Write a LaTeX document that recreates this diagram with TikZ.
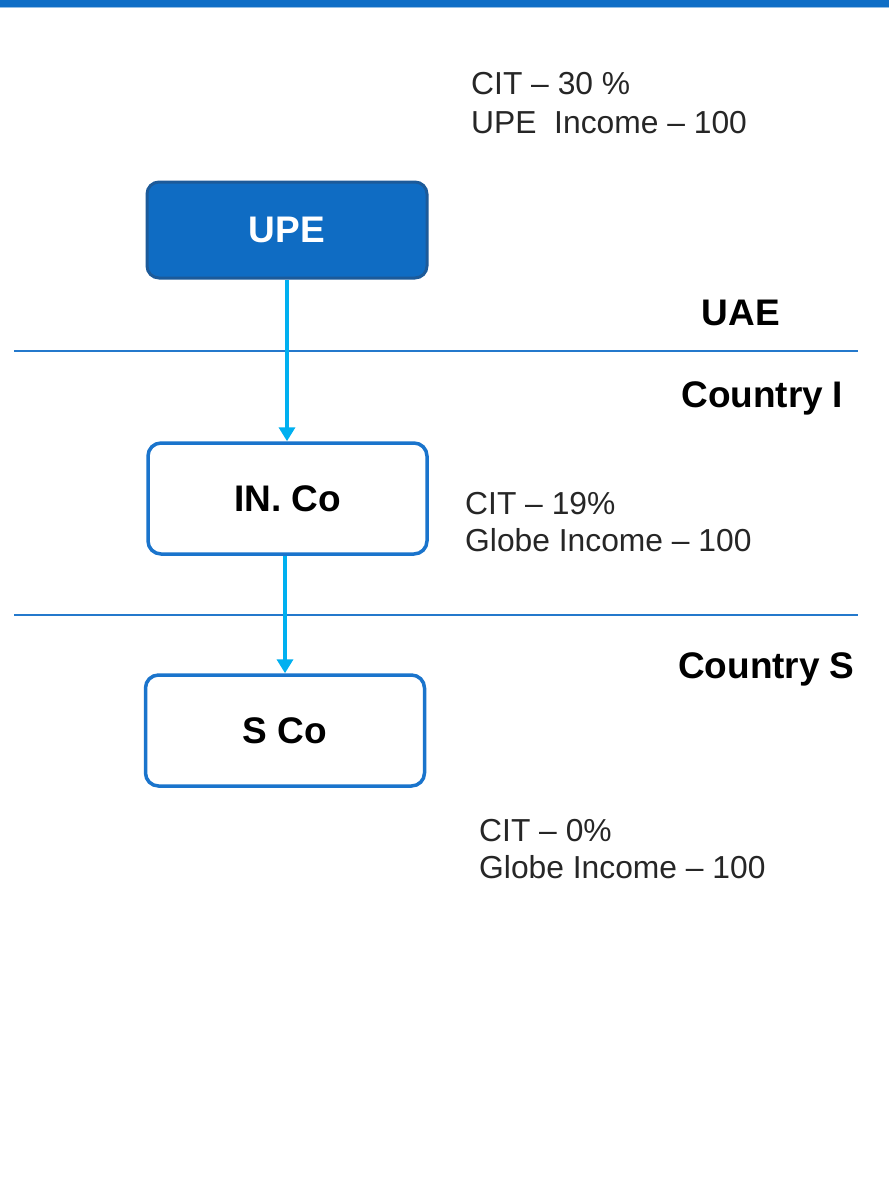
\documentclass[tikz,border=0pt]{standalone}
\usepackage{fontspec}
\setmainfont{Liberation Sans}
\usetikzlibrary{arrows.meta}
\definecolor{barblue}{HTML}{0F6EC6}
\definecolor{upefill}{HTML}{0F6CC3}
\definecolor{upeedge}{HTML}{1C5A99}
\definecolor{boxedge}{HTML}{1A74CC}
\definecolor{flowblue}{HTML}{00B0F0}
\definecolor{sepblue}{HTML}{2479CC}
\definecolor{txtgray}{HTML}{262626}
\tikzset{
  entity/.style={rounded corners=13pt, line width=3.5pt, draw=boxedge, fill=white,
    minimum width=279pt, minimum height=111pt, inner sep=0pt,
    font=\fontsize{37}{40}\selectfont\bfseries, text=black},
  parent/.style={rounded corners=12pt, line width=3pt, draw=upeedge, fill=upefill,
    minimum width=280pt, minimum height=96pt, inner sep=0pt,
    font=\fontsize{37}{40}\selectfont\bfseries, text=white},
  flow/.style={draw=flowblue, line width=3.8pt, -{Triangle[width=16pt,length=14pt]}},
  divider/.style={draw=sepblue, line width=1.6pt},
  region/.style={anchor=base, inner sep=0pt, font=\fontsize{37}{40}\selectfont\bfseries, text=black},
  info/.style={anchor=base west, inner sep=0pt, font=\fontsize{31.8}{38}\selectfont, text=txtgray}
}
\begin{document}
\begin{tikzpicture}[x=1pt,y=-1pt]
\useasboundingbox (0,0) rectangle (889,1188);
\fill[white] (0,0) rectangle (889,1188);
% header band
\fill[barblue] (0,0) rectangle (889,7);
\fill[barblue!45] (0,7) rectangle (889,8.5);

% jurisdiction dividers
\coordinate (d1l) at (14,351);
\coordinate (d1r) at (858,351);
\coordinate (d2l) at (14,615);
\coordinate (d2r) at (858,615);
\draw[divider] (d1l) -- (d1r);
\draw[divider] (d2l) -- (d2r);

% entities
\node[parent] (upe) at (287,230) {UPE};
\node[entity] (inco) at (287.5,498.5) {IN. Co};
\node[entity] (sco) at (285,730.5) {S Co};

% ownership chain, kept vertical
\draw[flow] (upe.south) -- (upe.south |- inco.north);
\draw[flow] (sco.north |- inco.south) -- (sco.north);

% jurisdictions
\node[region] (uae) at (741,325) {UAE};
\node[region] (ctryi) at (762,407) {Country\kern-1pt\ I};
\node[region] (ctrys) at (766,678) {Country\kern-1pt\ S};

% tax data
\node[info] (upecit) at (471,95) {CIT – 30 \%};
\node[info] (upeinc) at (471,133) {UPE\ \ Income – 100};
\node[info] (incocit) at (465,514) {CIT – 19\%};
\node[info] (incoinc) at (465,551) {Globe Income – 100};
\node[info] (scocit) at (479,841) {CIT – 0\%};
\node[info] (scoinc) at (479,878) {Globe Income – 100};
\end{tikzpicture}
\end{document}
